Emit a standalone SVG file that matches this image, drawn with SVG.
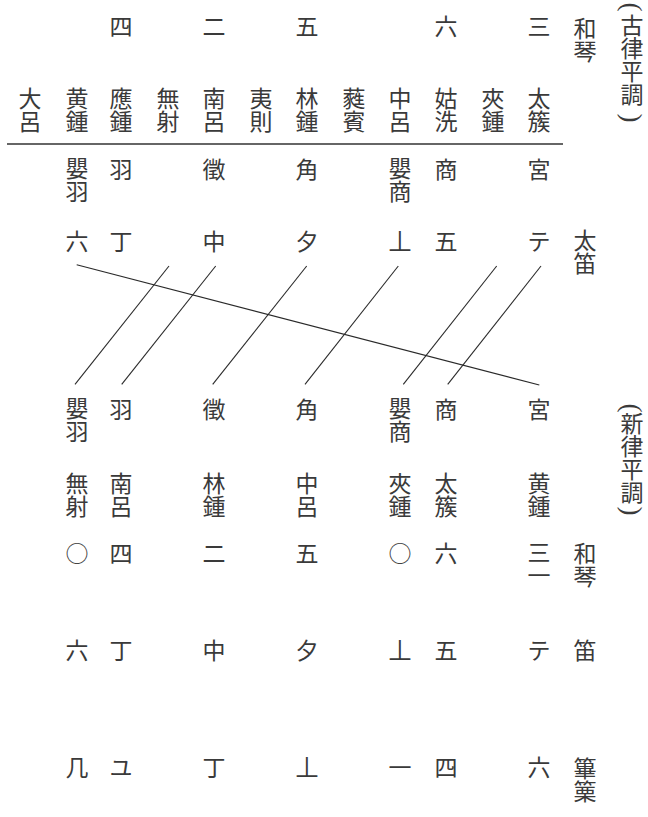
<svg xmlns="http://www.w3.org/2000/svg" width="648" height="817" viewBox="0 0 648 817">
<style>
text{font-family:"Noto Sans CJK JP","Noto Sans CJK SC",sans-serif;font-size:23px;fill:#3a3a3a;text-anchor:middle}
.v{writing-mode:vertical-rl;text-anchor:start}
.p{font-family:"Liberation Serif",serif;font-size:27px;dominant-baseline:central}
.c line{stroke:#2a2a2a;stroke-width:1.1}
</style>
<rect width="648" height="817" fill="#fff"/>
<g id="title-old">
<text class="p" x="632" y="7" transform="rotate(90 632 7)">(</text>
<text class="v" x="632" y="14">古律平調</text>
<text class="p" x="632" y="118" transform="rotate(90 632 118)">)</text>
</g>
<g id="row-wagon-old">
<text x="121" y="35">四</text><text x="214" y="35">二</text><text x="307" y="35">五</text><text x="446" y="35">六</text><text x="539" y="35">三</text>
<text class="v" x="585" y="17">和琴</text>
</g>
<g id="row-ritsu">
<text class="v" x="30" y="87">大呂</text>
<text class="v" x="77" y="87">黄鍾</text>
<text class="v" x="121" y="87">應鍾</text>
<text class="v" x="168" y="87">無射</text>
<text class="v" x="214" y="87">南呂</text>
<text class="v" x="261" y="87">夷則</text>
<text class="v" x="307" y="87">林鍾</text>
<text class="v" x="354" y="87">蕤賓</text>
<text class="v" x="400" y="87">中呂</text>
<text class="v" x="446" y="87">姑洗</text>
<text class="v" x="493" y="87">夾鍾</text>
<text class="v" x="539" y="87">太簇</text>
</g>
<g id="rule"><line x1="7" y1="144" x2="563" y2="144" stroke="#333" stroke-width="1.4"/></g>
<g id="row-scale-old">
<text class="v" x="77" y="157">嬰羽</text>
<text x="121" y="178">羽</text><text x="214" y="178">徵</text><text x="307" y="178">角</text>
<text class="v" x="400" y="157">嬰商</text>
<text x="446" y="178">商</text><text x="539" y="178">宮</text>
</g>
<g id="row-fue-old">
<text x="77" y="250">六</text><text x="121" y="250">丁</text><text x="214" y="250">中</text><text x="307" y="250">夕</text><text x="400" y="250">丄</text><text x="446" y="250">五</text><text x="539" y="250">テ</text>
<text class="v" x="585" y="229">太笛</text>
</g>
<g id="connectors" class="c">
<line x1="76.7" y1="264.7" x2="539.3" y2="385"/>
<line x1="169" y1="266" x2="75" y2="384.3"/>
<line x1="215.7" y1="266" x2="121.7" y2="384.3"/>
<line x1="306.7" y1="266" x2="212.7" y2="384.3"/>
<line x1="398.3" y1="266" x2="305" y2="384.3"/>
<line x1="496.7" y1="266" x2="403.3" y2="384.3"/>
<line x1="541" y1="266" x2="447.7" y2="384.3"/>
</g>
<g id="row-scale-new">
<text class="v" x="77" y="397">嬰羽</text>
<text x="121" y="418">羽</text><text x="214" y="418">徵</text><text x="307" y="418">角</text>
<text class="v" x="400" y="397">嬰商</text>
<text x="446" y="418">商</text><text x="539" y="418">宮</text>
</g>
<g id="title-new">
<text class="p" x="632" y="408" transform="rotate(90 632 408)">(</text>
<text class="v" x="632" y="412">新律平調</text>
<text class="p" x="632" y="511" transform="rotate(90 632 511)">)</text>
</g>
<g id="row-ritsu-new">
<text class="v" x="77" y="472">無射</text>
<text class="v" x="121" y="472">南呂</text>
<text class="v" x="214" y="472">林鍾</text>
<text class="v" x="307" y="472">中呂</text>
<text class="v" x="400" y="472">夾鍾</text>
<text class="v" x="446" y="472">太簇</text>
<text class="v" x="539" y="472">黄鍾</text>
</g>
<g id="row-wagon-new">
<text x="77" y="562">○</text><text x="121" y="562">四</text><text x="214" y="562">二</text><text x="307" y="562">五</text><text x="400" y="562">○</text><text x="446" y="562">六</text>
<text class="v" x="539" y="541">三一</text>
<text class="v" x="585" y="542">和琴</text>
</g>
<g id="row-fue-new">
<text x="77" y="659">六</text><text x="121" y="659">丁</text><text x="214" y="659">中</text><text x="307" y="659">夕</text><text x="400" y="659">丄</text><text x="446" y="659">五</text><text x="539" y="659">テ</text><text x="585" y="659">笛</text>
</g>
<g id="row-hichiriki">
<text x="77" y="776">几</text><text x="121" y="776">ユ</text><text x="214" y="776">丁</text><text x="307" y="776">丄</text><text x="400" y="776">一</text><text x="446" y="776">四</text><text x="539" y="776">六</text>
<text class="v" x="585" y="757">篳篥</text>
</g>
</svg>
